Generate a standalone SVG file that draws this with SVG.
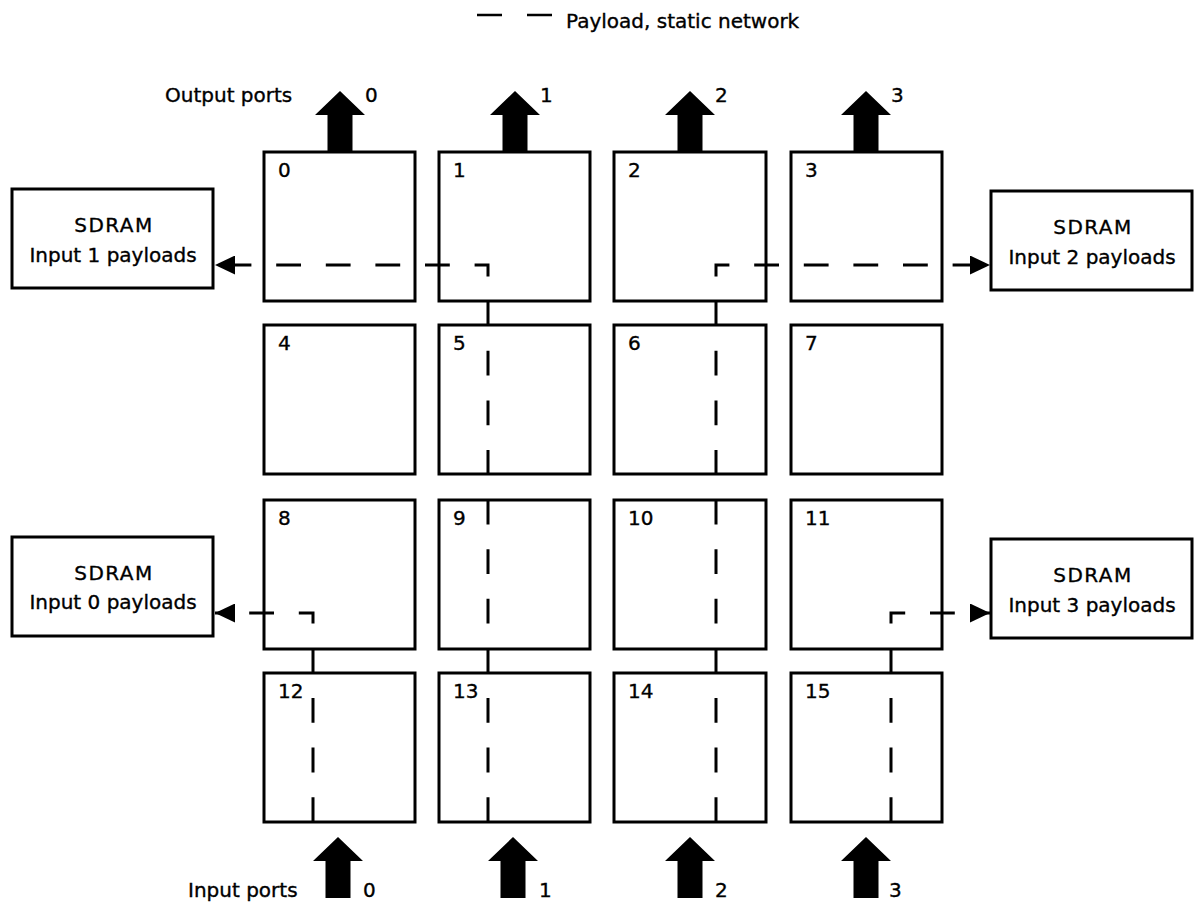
<svg xmlns="http://www.w3.org/2000/svg" width="1194" height="904" viewBox="0 0 1194 904">
  <style>
    text { font-family: "DejaVu Sans", Verdana, sans-serif; font-size: 20px; fill: #000; stroke: #000; stroke-width: 0.35; }
    .tile { fill: #fff; stroke: #000; stroke-width: 3; }
    .sdram { fill: #fff; stroke: #000; stroke-width: 3; }
    .mid { text-anchor: middle; }
    .title { letter-spacing: 1.5px; }
    .payload { fill: none; stroke: #000; stroke-width: 3; stroke-dasharray: 24.8 24.8; stroke-linejoin: miter; }
    .port { fill: #000; }
  </style>
  <defs>
    <marker id="head" markerUnits="userSpaceOnUse" markerWidth="21" markerHeight="19" viewBox="0 0 21 19" refX="20" refY="9.5" orient="auto">
      <path d="M0,0 L20,9.5 L0,19 Z" fill="#000"/>
    </marker>
    <!-- thick block arrow used for the I/O ports, tip at the origin -->
    <path id="port-arrow" d="M0,0 L25,24 L12.5,24 L12.5,61 L-12.5,61 L-12.5,24 L-25,24 Z"/>
  </defs>

  <rect width="1194" height="904" fill="#fff"/>

  <!-- legend -->
  <g id="legend">
    <line x1="477" y1="15" x2="552" y2="15" stroke="#000" stroke-width="2.5" stroke-dasharray="25 25"/>
    <text x="566" y="28">Payload, static network</text>
  </g>

  <!-- tiles -->
  <g id="tile-0"><rect class="tile" x="264" y="152" width="151" height="149"/><text x="278" y="177">0</text></g>
  <g id="tile-1"><rect class="tile" x="439" y="152" width="151" height="149"/><text x="453" y="177">1</text></g>
  <g id="tile-2"><rect class="tile" x="614" y="152" width="152" height="149"/><text x="628" y="177">2</text></g>
  <g id="tile-3"><rect class="tile" x="791" y="152" width="151" height="149"/><text x="805" y="177">3</text></g>

  <g id="tile-4"><rect class="tile" x="264" y="325" width="151" height="149"/><text x="278" y="350">4</text></g>
  <g id="tile-5"><rect class="tile" x="439" y="325" width="151" height="149"/><text x="453" y="350">5</text></g>
  <g id="tile-6"><rect class="tile" x="614" y="325" width="152" height="149"/><text x="628" y="350">6</text></g>
  <g id="tile-7"><rect class="tile" x="791" y="325" width="151" height="149"/><text x="805" y="350">7</text></g>

  <g id="tile-8"><rect class="tile" x="264" y="500" width="151" height="149"/><text x="278" y="525">8</text></g>
  <g id="tile-9"><rect class="tile" x="439" y="500" width="151" height="149"/><text x="453" y="525">9</text></g>
  <g id="tile-10"><rect class="tile" x="614" y="500" width="152" height="149"/><text x="628" y="525">10</text></g>
  <g id="tile-11"><rect class="tile" x="791" y="500" width="151" height="149"/><text x="805" y="525">11</text></g>

  <g id="tile-12"><rect class="tile" x="264" y="673" width="151" height="149"/><text x="278" y="698">12</text></g>
  <g id="tile-13"><rect class="tile" x="439" y="673" width="151" height="149"/><text x="453" y="698">13</text></g>
  <g id="tile-14"><rect class="tile" x="614" y="673" width="152" height="149"/><text x="628" y="698">14</text></g>
  <g id="tile-15"><rect class="tile" x="791" y="673" width="151" height="149"/><text x="805" y="698">15</text></g>

  <!-- SDRAM banks -->
  <g id="sdram-in1">
    <rect class="sdram" x="12" y="189" width="201" height="99"/>
    <text class="mid title" x="114" y="232">SDRAM</text>
    <text class="mid" x="113" y="262">Input 1 payloads</text>
  </g>
  <g id="sdram-in2">
    <rect class="sdram" x="991" y="191" width="201" height="99"/>
    <text class="mid title" x="1093" y="234">SDRAM</text>
    <text class="mid" x="1092" y="264">Input 2 payloads</text>
  </g>
  <g id="sdram-in0">
    <rect class="sdram" x="12" y="537" width="201" height="99"/>
    <text class="mid title" x="114" y="580">SDRAM</text>
    <text class="mid" x="113" y="609">Input 0 payloads</text>
  </g>
  <g id="sdram-in3">
    <rect class="sdram" x="991" y="539" width="201" height="99"/>
    <text class="mid title" x="1093" y="582">SDRAM</text>
    <text class="mid" x="1092" y="612">Input 3 payloads</text>
  </g>

  <!-- output ports -->
  <g id="output-ports">
    <text x="165" y="102">Output ports</text>
    <use href="#port-arrow" class="port" x="340" y="91"/>
    <use href="#port-arrow" class="port" x="515" y="91"/>
    <use href="#port-arrow" class="port" x="690" y="91"/>
    <use href="#port-arrow" class="port" x="866" y="91"/>
    <text x="365" y="102">0</text>
    <text x="540" y="102">1</text>
    <text x="715" y="102">2</text>
    <text x="891" y="102">3</text>
  </g>

  <!-- input ports -->
  <g id="input-ports">
    <text x="188" y="897">Input ports</text>
    <use href="#port-arrow" class="port" x="338" y="837"/>
    <use href="#port-arrow" class="port" x="513" y="837"/>
    <use href="#port-arrow" class="port" x="690" y="837"/>
    <use href="#port-arrow" class="port" x="866" y="837"/>
    <text x="363" y="897">0</text>
    <text x="539" y="897">1</text>
    <text x="715" y="897">2</text>
    <text x="889" y="897">3</text>
  </g>

  <!-- payload routes over the static network: input port up the column, then out to SDRAM -->
  <g id="connectors">
    <path class="payload" d="M313,822 V613 H215" marker-end="url(#head)"/>
    <path class="payload" d="M488,822 V265 H215" marker-end="url(#head)"/>
    <path class="payload" d="M716,822 V265 H990" marker-end="url(#head)"/>
    <path class="payload" d="M891,822 V613 H990" marker-end="url(#head)"/>
  </g>
</svg>
